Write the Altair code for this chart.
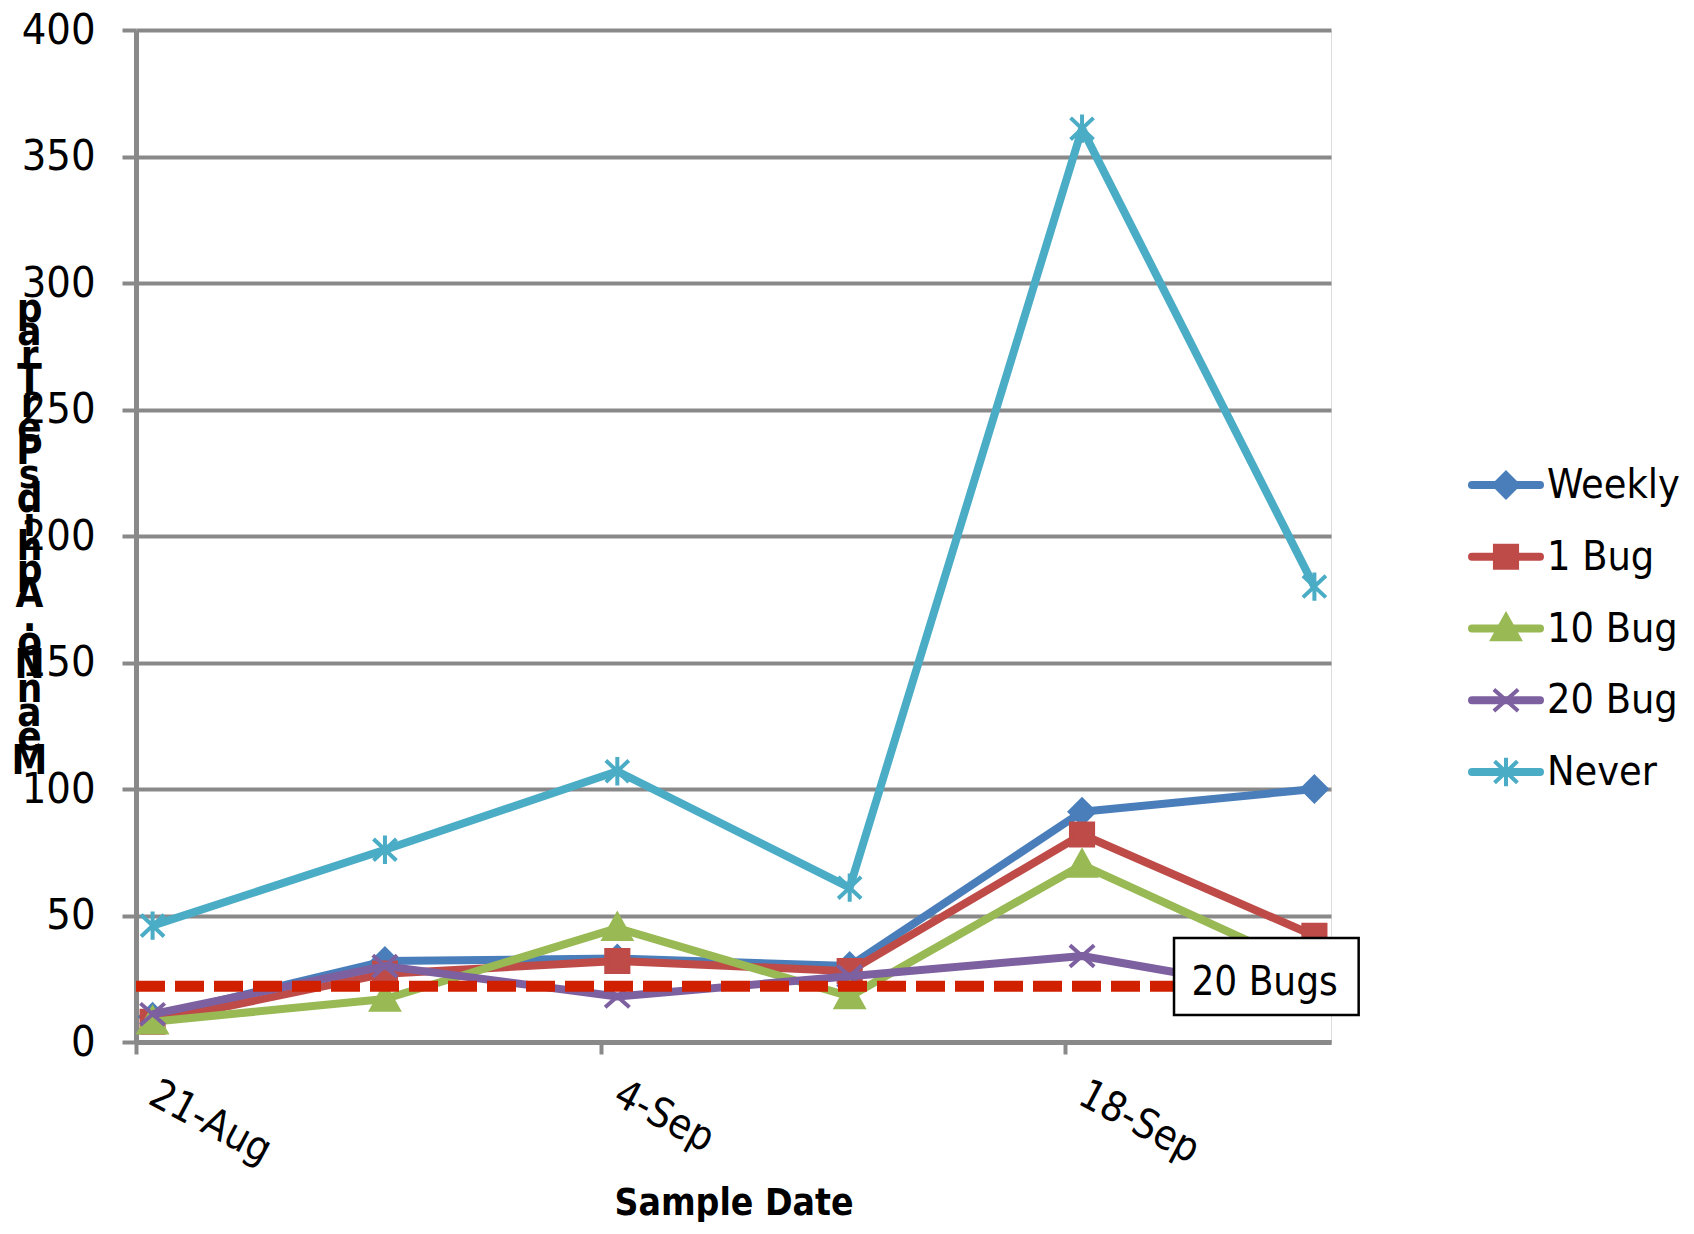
import altair as alt
import pandas as pd

FONT = "Liberation Sans Narrow, Arial Narrow, DejaVu Sans Condensed, Roboto Condensed, sans-serif"
GRAY = "#898989"

# ---------------- data ----------------
dates = ["2012-08-21T12:00:00Z", "2012-08-28T12:00:00Z", "2012-09-04T12:00:00Z",
         "2012-09-11T12:00:00Z", "2012-09-18T12:00:00Z", "2012-09-25T12:00:00Z"]
series = ["Weekly", "1 Bug", "10 Bug", "20 Bug", "Never"]
weekly = [10, 32, 33, 30, 91, 100]
bug1 = [8, 27, 32, 28, 82, 42]
bug10 = [8, 17, 45, 18, 70, 28]
bug20 = [11, 30, 18, 26, 34, 18]
never = [46, 76, 107, 61, 361, 180]
colors = ["#4A7EBB", "#BE4B48", "#98B954", "#7D60A0", "#4BACC6"]
shapes = [
    "M0,-0.9L0.9,0L0,0.9L-0.9,0Z",
    "M-0.82,-0.82L0.82,-0.82L0.82,0.82L-0.82,0.82Z",
    "M0,-1L1,0.8L-1,0.8Z",
    "M-0.9,-0.8L0.9,0.8M-0.9,0.8L0.9,-0.8",
    "M-0.85,-0.8L0.85,0.8M-0.85,0.8L0.85,-0.8M0,-1.05L0,1.05",
]
y_ticks = list(range(0, 401, 50))
threshold = 22
threshold_label = "20 Bugs"
y_title = "Mean No. Aphids Per Trap"
x_title = "Sample Date"


def dt(m, d, h=0, mi=0):
    return alt.DateTime(year=2012, month=m, date=d, hours=h, minutes=mi, utc=True)


x_ticks = [dt(8, 21), dt(9, 4), dt(9, 18)]
x_domain = [dt(8, 21), dt(9, 26)]

rows = []
for s, vals in zip(series, [weekly, bug1, bug10, bug20, never]):
    for d, v in zip(dates, vals):
        rows.append({"date": d, "series": s, "value": v})
df = pd.DataFrame(rows)

color_scale = alt.Scale(domain=series, range=colors)
shape_scale = alt.Scale(domain=series, range=shapes)

# vertical stacked title, letters stacked bottom-to-top (blank lines are collapsed by the renderer)
y_title_lines = [c for c in reversed(y_title) if c != " "]

x_enc = alt.X(
    "date:T",
    scale=alt.Scale(type="utc", domain=x_domain),
    axis=alt.Axis(
        values=x_ticks, labelExpr="utcFormat(datum.value, '%-d-%b')", grid=False,
        domainColor=GRAY, domainWidth=5, tickColor=GRAY, tickWidth=4, tickSize=12,
        labelFont=FONT, labelFontSize=41, labelColor="black", labelAngle=28,
        labelAlign="left", labelBaseline="top", labelPadding=20, labelOffset=25,
        labelFlush=False, labelOverlap=False,
        title=x_title, titleFont=FONT, titleFontSize=37, titleFontWeight="bold",
        titleColor="black", titleY=172, titleBaseline="alphabetic",
    ),
)
y_enc = alt.Y(
    "value:Q",
    scale=alt.Scale(domain=[0, 400], nice=False),
    axis=alt.Axis(
        values=y_ticks, grid=True, gridColor=GRAY, gridWidth=4,
        domainColor=GRAY, domainWidth=5, tickColor=GRAY, tickWidth=4, tickSize=14,
        labelFont=FONT, labelFontSize=43, labelColor="black", labelPadding=27,
        title=y_title_lines, titleFont=FONT, titleFontSize=40,
        titleFontWeight="bold", titleColor="black", titleAngle=0,
        titleAlign="center", titleBaseline="top", titleLineHeight=23.8,
        titleX=-107, titleY=259,
    ),
)
color_enc = alt.Color("series:N", scale=color_scale, legend=None)
stroke_enc = alt.Stroke("series:N", scale=color_scale, legend=None)
shape_enc = alt.Shape("series:N", scale=shape_scale, legend=None)

layers = []
for s in series:
    sub = alt.Chart(df).transform_filter(alt.datum.series == s)
    layers.append(
        sub.mark_line(strokeWidth=8, strokeJoin="round").encode(x=x_enc, y=y_enc, color=color_enc)
    )
    layers.append(
        sub.mark_point(filled=True, size=729, strokeWidth=4, opacity=1).encode(
            x=x_enc, y=y_enc, color=color_enc, stroke=stroke_enc, shape=shape_enc
        )
    )

thr_df = pd.DataFrame({"date": ["2012-08-21T00:00:00Z"], "date_end": ["2012-09-26T00:00:00Z"],
                       "value": [threshold]})
rule = alt.Chart(thr_df).mark_rule(color="#D02000", strokeWidth=11, strokeDash=[29, 10]).encode(
    x="date:T", x2="date_end:T", y="value:Q"
)

box_df = pd.DataFrame({"date": ["2012-09-21T06:30:00Z"], "date_end": ["2012-09-26T20:00:00Z"],
                       "value": [10.7], "value_end": [41.1]})
box = alt.Chart(box_df).mark_rect(fill="white", stroke="black", strokeWidth=2.5).encode(
    x="date:T", x2="date_end:T", y="value:Q", y2="value_end:Q"
)
lab_df = pd.DataFrame({"date": ["2012-09-24T00:00:00Z"], "value": [18.5], "label": [threshold_label]})
lab = alt.Chart(lab_df).mark_text(font=FONT, fontSize=40, color="black", align="center",
                                  baseline="alphabetic").encode(x="date:T", y="value:Q", text="label:N")

main = alt.layer(*layers, rule, box, lab)

leg_df = pd.DataFrame({"series": series})
leg_y = alt.Y("series:N", scale=alt.Scale(type="point", domain=series, range=[455, 742], padding=0),
              axis=None)
leg_line = alt.Chart(leg_df).mark_rule(strokeWidth=8, strokeCap="round").encode(
    x=alt.value(1336), x2=alt.value(1404), y=leg_y, color=color_enc
)
leg_pt = alt.Chart(leg_df).mark_point(filled=True, size=729, strokeWidth=4, opacity=1).encode(
    x=alt.value(1370), y=leg_y, color=color_enc, stroke=stroke_enc, shape=shape_enc
)
leg_txt = alt.Chart(leg_df).mark_text(font=FONT, fontSize=41, color="black", align="left",
                                      baseline="alphabetic", dy=13).encode(
    x=alt.value(1411), y=leg_y, text="series:N"
)
legend = alt.layer(leg_line, leg_pt, leg_txt)

chart = (
    alt.layer(main, legend)
    .resolve_scale(y="independent")
    .properties(width=1195, height=1012, autosize=alt.AutoSizeParams(type="none"),
                padding={"left": 128, "top": 22, "right": 355, "bottom": 180})
    .configure_view(stroke=None)
    .configure(background="white")
)

chart.save("out.html", embed_options={"renderer": "svg", "actions": False})
